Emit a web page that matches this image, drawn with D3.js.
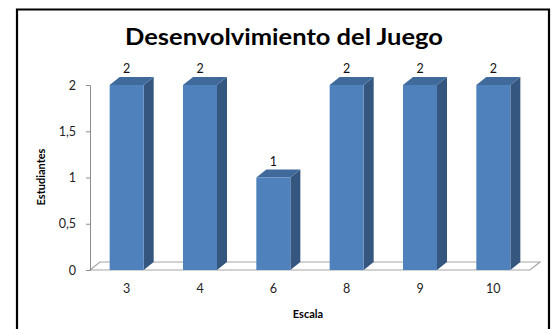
<!DOCTYPE html>
<html><head><meta charset="utf-8">
<script src="https://cdn.jsdelivr.net/npm/d3@7"></script>
<style>body{margin:0;background:#fff;} text{font-family:Lato,"Open Sans",sans-serif;}</style>
</head><body>
<svg id="c" width="554" height="329"></svg>
<script>
const categories = ["3","4","6","8","9","10"];
const values = [2,2,1,2,2,2];
const yTicks = [0,0.5,1,1.5,2];
const title = "Desenvolvimiento del Juego";
const xTitle = "Escala";
const yTitle = "Estudiantes";

const svg = d3.select("#c");
const dx = 10, dy = -8;
const x = d3.scaleBand().domain(categories).range([90,530]).paddingInner(0.536).paddingOuter(0.268);
const y = d3.scaleLinear().domain([0,2]).range([270,85]);

// frame
svg.append("path").attr("d","M17,329 L17,9.5 L549,9.5 L549,329").attr("fill","none").attr("stroke","#000").attr("stroke-width",2.2);

// title
svg.append("text").attr("x",284).attr("y",45).attr("text-anchor","middle")
  .attr("font-size",23).attr("font-weight","bold").attr("fill","#000")
  .attr("textLength",318).attr("lengthAdjust","spacingAndGlyphs").text(title);

// floor
const x0 = x.range()[0], x1 = x.range()[1], yb = y(0);
svg.append("path").attr("d",`M${x0},${yb} L${x1},${yb} L${x1+dx},${yb+dy} L${x0+dx},${yb+dy} Z`)
  .attr("fill","#fff").attr("stroke","#a6a6a6").attr("stroke-width",1.2);

// y axis
const ya = svg.append("g").attr("transform",`translate(${x0},0)`)
  .call(d3.axisLeft(y).tickValues(yTicks).tickSizeOuter(0).tickSize(4).tickPadding(10)
    .tickFormat(d => String(d).replace(".",",")));
ya.select(".domain").attr("stroke","#8c8c8c");
ya.selectAll(".tick line").attr("stroke","#8c8c8c");
ya.selectAll(".tick text").attr("font-size",12.5).attr("fill","#222").attr("font-family","Lato,'Open Sans',sans-serif");

// x axis labels
const xa = svg.append("g").attr("transform",`translate(0,${yb})`)
  .call(d3.axisBottom(x).tickSize(0).tickPadding(14));
xa.select(".domain").remove();
xa.selectAll(".tick text").attr("font-size",12.5).attr("fill","#222").attr("font-family","Lato,'Open Sans',sans-serif");

// bars
const g = svg.append("g");
categories.forEach((c,i) => {
  const bx = x(c), bw = x.bandwidth(), ty = y(values[i]), by = y(0);
  g.append("path").attr("d",`M${bx+bw},${by} L${bx+bw+dx},${by+dy} L${bx+bw+dx},${ty+dy} L${bx+bw},${ty} Z`).attr("fill","#34567f");
  g.append("path").attr("d",`M${bx},${ty} L${bx+dx},${ty+dy} L${bx+bw+dx},${ty+dy} L${bx+bw},${ty} Z`).attr("fill","#416a9c");
  g.append("rect").attr("x",bx).attr("y",ty).attr("width",bw).attr("height",by-ty).attr("fill","#4f81bd");
  g.append("text").attr("x",bx+bw/2).attr("y",ty+dy-4).attr("text-anchor","middle")
    .attr("font-size",12.5).attr("fill","#111").text(values[i]);
});

// axis titles
svg.append("text").attr("x",308).attr("y",318).attr("text-anchor","middle")
  .attr("font-size",11).attr("font-weight","bold").attr("fill","#000").text(xTitle);
svg.append("text").attr("transform","translate(45,177) rotate(-90)").attr("text-anchor","middle")
  .attr("font-size",11).attr("font-weight","bold").attr("fill","#000").text(yTitle);
</script>
</body></html>
